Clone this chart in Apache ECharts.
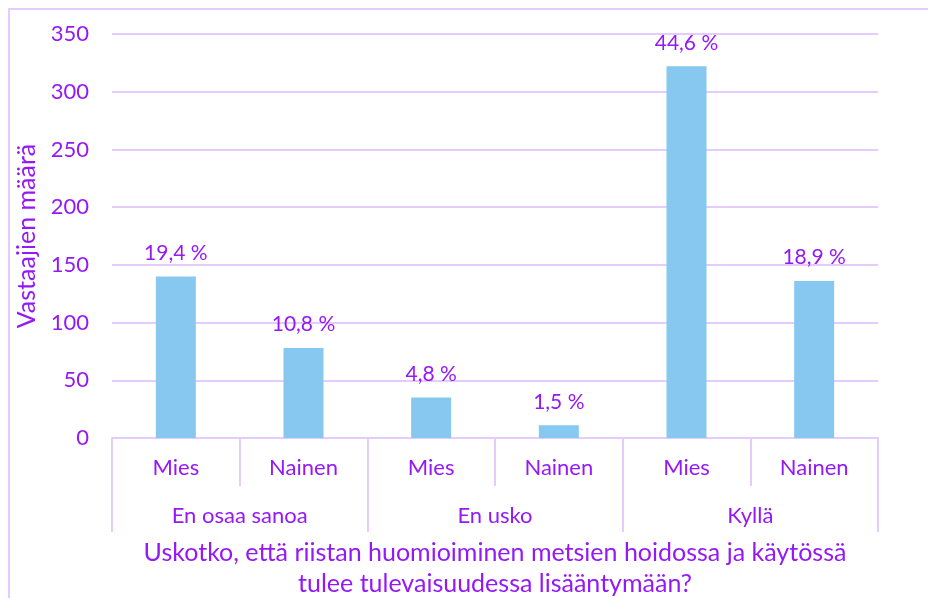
<!DOCTYPE html>
<html>
<head>
<meta charset="utf-8">
<script src="https://cdn.jsdelivr.net/npm/echarts@6/dist/echarts.min.js"></script>
<style>
	html, body { margin: 0; padding: 0; background: #fff; }
	#chart { width: 928px; height: 598px; }
</style>
</head>
<body>
<div id="chart"></div>
<script>
var groups = ['En osaa sanoa', 'En usko', 'Kyllä'];
var genders = ['Mies', 'Nainen', 'Mies', 'Nainen', 'Mies', 'Nainen'];
var counts = [140, 78, 35, 11, 322, 136];
var percents = ['19,4 %', '10,8 %', '4,8 %', '1,5 %', '44,6 %', '18,9 %'];
var yTicks = { min: 0, max: 350, interval: 50 };

var purple = '#9519F7';
var lineColor = '#E6CCFC';
var font = 'Lato';

var myChart = echarts.init(document.getElementById('chart'));
var option = {
	backgroundColor: '#fff',
	textStyle: { fontFamily: font },
	graphic: [{
		type: 'polyline',
		shape: { points: [[9, 598], [9, 9], [928, 9]] },
		style: { fill: null, stroke: lineColor, lineWidth: 2 },
		silent: true
	}],
	grid: {
		left: 112,
		right: 50,
		top: 34,
		bottom: 160,
		outerBoundsMode: 'none',
		containLabel: false
	},
	yAxis: {
		type: 'value',
		min: yTicks.min,
		max: yTicks.max,
		interval: yTicks.interval,
		name: 'Vastaajien määrä',
		nameLocation: 'middle',
		nameGap: 70,
		nameTextStyle: { color: purple, fontSize: 25, fontFamily: font },
		axisLine: { show: false },
		axisTick: { show: false },
		axisLabel: { color: purple, fontSize: 22, margin: 23, fontFamily: font },
		splitLine: { lineStyle: { color: lineColor, width: 2 } }
	},
	xAxis: [{
		type: 'category',
		data: genders,
		position: 'bottom',
		axisLine: { show: true, lineStyle: { color: lineColor, width: 2 } },
		axisTick: { show: true, length: 48, lineStyle: { color: lineColor, width: 2 } },
		axisLabel: { color: purple, fontSize: 22, margin: 19, fontFamily: font, interval: 0 },
		splitLine: { show: false }
	}, {
		type: 'category',
		data: groups,
		position: 'bottom',
		axisLine: { show: false },
		axisTick: { show: true, length: 94, lineStyle: { color: lineColor, width: 2 } },
		axisLabel: { color: purple, fontSize: 22, margin: 67, fontFamily: font, interval: 0 },
		splitLine: { show: false },
		name: 'Uskotko, että riistan huomioiminen metsien hoidossa ja käytössä\ntulee tulevaisuudessa lisääntymään?',
		nameLocation: 'middle',
		nameGap: 99,
		nameTextStyle: { color: purple, fontSize: 25, lineHeight: 31, fontFamily: font, align: 'center', verticalAlign: 'top' }
	}],
	series: [{
		type: 'bar',
		xAxisIndex: 0,
		data: counts,
		barWidth: 40,
		itemStyle: { color: '#86C8F0' },
		label: {
			show: true,
			position: 'top',
			distance: 13,
			color: purple,
			fontSize: 21,
			fontFamily: font,
			formatter: function(p) {
				return percents[p.dataIndex];
			}
		}
	}]
};
myChart.setOption(option);
</script>
</body>
</html>
